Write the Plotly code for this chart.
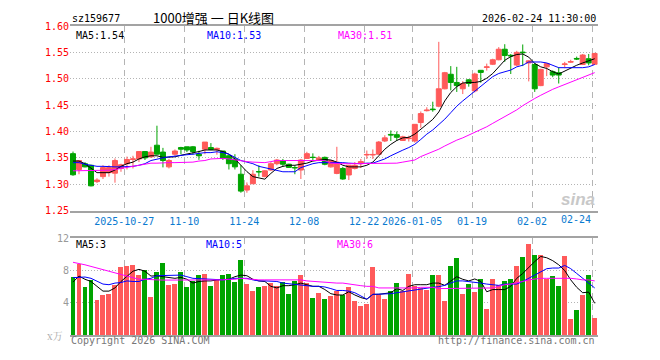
import plotly.graph_objects as go

# ---------------- data ----------------
opens = [1.358, 1.328, 1.339, 1.336, 1.305, 1.3145, 1.322, 1.321, 1.330, 1.339,
         1.347, 1.348, 1.362, 1.352, 1.374, 1.361, 1.333, 1.357, 1.3696, 1.371,
         1.371, 1.357, 1.3665, 1.3696, 1.366, 1.363, 1.354, 1.348, 1.319, 1.289,
         1.301, 1.3242, 1.3145, 1.327, 1.339, 1.345, 1.338, 1.3318, 1.327, 1.349,
         1.3512, 1.345, 1.351, 1.333, 1.3206, 1.330, 1.3176, 1.330, 1.339, 1.3555,
         1.3555, 1.357, 1.382, 1.3945, 1.394, 1.383, 1.3865, 1.382, 1.417, 1.4395,
         1.4425, 1.448, 1.481, 1.5085, 1.493, 1.481, 1.498, 1.477, 1.516, 1.5215,
         1.5275, 1.536, 1.556, 1.5445, 1.526, 1.5505, 1.530, 1.527, 1.487, 1.5226,
         1.5134, 1.5115, 1.527, 1.5315, 1.5385, 1.527, 1.538, 1.5275]
highs = [1.362, 1.346, 1.342, 1.337, 1.3114, 1.336, 1.336, 1.349, 1.339, 1.3525,
         1.354, 1.363, 1.363, 1.371, 1.411, 1.369, 1.348, 1.366, 1.371, 1.371,
         1.3726, 1.3635, 1.380, 1.378, 1.3696, 1.363, 1.356, 1.357, 1.336, 1.3035,
         1.3267, 1.336, 1.3267, 1.342, 1.348, 1.348, 1.339, 1.336, 1.348, 1.3616,
         1.3586, 1.3537, 1.3525, 1.346, 1.371, 1.333, 1.336, 1.342, 1.348, 1.364,
         1.366, 1.382, 1.393, 1.402, 1.400, 1.392, 1.392, 1.4136, 1.438, 1.446,
         1.4565, 1.570, 1.513, 1.524, 1.5226, 1.4955, 1.499, 1.5115, 1.516, 1.5287,
         1.538, 1.560, 1.5655, 1.547, 1.553, 1.565, 1.535, 1.530, 1.519, 1.530,
         1.516, 1.522, 1.532, 1.536, 1.542, 1.547, 1.547, 1.549]
lows = [1.316, 1.319, 1.332, 1.296, 1.3023, 1.310, 1.3145, 1.303, 1.3237, 1.328,
        1.330, 1.342, 1.346, 1.350, 1.356, 1.332, 1.330, 1.354, 1.357, 1.361,
        1.356, 1.3463, 1.357, 1.3647, 1.356, 1.346, 1.328, 1.328, 1.284, 1.284,
        1.301, 1.3145, 1.313, 1.3255, 1.336, 1.333, 1.331, 1.319, 1.310, 1.348,
        1.345, 1.344, 1.336, 1.3316, 1.319, 1.3085, 1.308, 1.328, 1.331, 1.348,
        1.348, 1.356, 1.380, 1.382, 1.382, 1.382, 1.381, 1.379, 1.407, 1.438,
        1.4375, 1.446, 1.480, 1.478, 1.475, 1.471, 1.485, 1.474, 1.4925, 1.5155,
        1.526, 1.535, 1.532, 1.509, 1.524, 1.524, 1.495, 1.475, 1.486, 1.505,
        1.503, 1.491, 1.520, 1.530, 1.5355, 1.526, 1.5255, 1.5265]
closes = [1.318, 1.345, 1.333, 1.297, 1.308, 1.3316, 1.3316, 1.345, 1.337, 1.347,
          1.348, 1.362, 1.350, 1.361, 1.357, 1.345, 1.345, 1.363, 1.3665, 1.365,
          1.362, 1.354, 1.380, 1.366, 1.368, 1.349, 1.339, 1.333, 1.287, 1.297,
          1.319, 1.3235, 1.3255, 1.339, 1.346, 1.338, 1.332, 1.3312, 1.346, 1.358,
          1.3508, 1.350, 1.338, 1.345, 1.342, 1.310, 1.336, 1.336, 1.343, 1.3565,
          1.3565, 1.380, 1.388, 1.3935, 1.389, 1.390, 1.3875, 1.4136, 1.434, 1.4405,
          1.4415, 1.481, 1.5115, 1.493, 1.487, 1.491, 1.491, 1.509, 1.512, 1.5225,
          1.536, 1.556, 1.544, 1.5435, 1.550, 1.5495, 1.534, 1.481, 1.5177, 1.5287,
          1.507, 1.507, 1.528, 1.5325, 1.5375, 1.545, 1.530, 1.548]

ma5 = [1.344, 1.344, 1.339, 1.330, 1.322, 1.322, 1.322, 1.327, 1.334, 1.339,
       1.342, 1.348, 1.352, 1.354, 1.354, 1.351, 1.351, 1.352, 1.355, 1.357,
       1.3586, 1.362, 1.365, 1.365, 1.365, 1.362, 1.357, 1.348, 1.336, 1.324,
       1.3145, 1.3115, 1.3096, 1.3206, 1.330, 1.334, 1.336, 1.336, 1.338, 1.340,
       1.344, 1.346, 1.347, 1.346, 1.342, 1.336, 1.333, 1.333, 1.333, 1.336,
       1.342, 1.354, 1.3665, 1.3757, 1.383, 1.388, 1.389, 1.395, 1.405, 1.4136,
       1.423, 1.437, 1.458, 1.474, 1.485, 1.492, 1.493, 1.493, 1.495, 1.501,
       1.510, 1.5226, 1.535, 1.542, 1.546, 1.547, 1.541, 1.529, 1.5226, 1.5195,
       1.5134, 1.509, 1.515, 1.521, 1.5256, 1.530, 1.5336, 1.538]
ma10 = [1.341, 1.341, 1.338, 1.336, 1.334, 1.334, 1.333, 1.333, 1.333, 1.333,
        1.334, 1.336, 1.339, 1.345, 1.348, 1.350, 1.352, 1.3537, 1.355, 1.356,
        1.357, 1.3586, 1.360, 1.360, 1.3616, 1.360, 1.357, 1.351, 1.345, 1.342,
        1.339, 1.334, 1.3316, 1.328, 1.3267, 1.3237, 1.3237, 1.3237, 1.3316, 1.336,
        1.339, 1.341, 1.341, 1.342, 1.341, 1.341, 1.340, 1.339, 1.339, 1.340,
        1.340, 1.344, 1.348, 1.354, 1.3586, 1.3647, 1.3696, 1.3757, 1.385, 1.395,
        1.403, 1.4124, 1.4234, 1.4357, 1.448, 1.458, 1.4675, 1.4767, 1.486, 1.495,
        1.504, 1.510, 1.5134, 1.5165, 1.5226, 1.5256, 1.5318, 1.5318, 1.5318, 1.530,
        1.5256, 1.521, 1.521, 1.521, 1.521, 1.521, 1.5226, 1.527]
ma30 = [1.3255, 1.3255, 1.3255, 1.3255, 1.3255, 1.3255, 1.3267, 1.328, 1.330, 1.333,
        1.334, 1.336, 1.339, 1.340, 1.340, 1.341, 1.341, 1.341, 1.341, 1.341,
        1.342, 1.344, 1.345, 1.348, 1.349, 1.349, 1.348, 1.346, 1.344, 1.343,
        1.342, 1.341, 1.341, 1.343, 1.345, 1.345, 1.345, 1.345, 1.345, 1.345,
        1.345, 1.345, 1.345, 1.340, 1.339, 1.339, 1.339, 1.339, 1.339, 1.339,
        1.339, 1.339, 1.339, 1.339, 1.340, 1.342, 1.344, 1.346, 1.3525, 1.357,
        1.3616, 1.3665, 1.3726, 1.3788, 1.3837, 1.388, 1.393, 1.398, 1.403, 1.409,
        1.4155, 1.4216, 1.4277, 1.4338, 1.441, 1.449, 1.4565, 1.4626, 1.4687, 1.475,
        1.480, 1.4846, 1.489, 1.493, 1.498, 1.5025, 1.507, 1.5116]

volume = [7.14, 8.77, 5.91, 6.83, 4.37, 4.96, 5.12, 6.15, 8.45, 8.57,
          8.65, 7.38, 8.06, 4.76, 7.74, 8.89, 6.19, 6.31, 7.86, 5.91,
          6.63, 7.38, 7.50, 6.07, 6.83, 7.38, 7.50, 6.55, 9.29, 6.31,
          5.44, 5.95, 6.07, 6.43, 6.07, 6.55, 5.12, 6.67, 7.38, 6.43,
          4.64, 5.24, 4.52, 4.84, 5.44, 4.96, 5.91, 4.17, 3.65, 3.89,
          8.45, 4.96, 4.48, 5.44, 6.39, 5.44, 7.58, 6.03, 5.83, 5.63,
          7.46, 7.38, 4.17, 8.57, 9.52, 5.12, 6.31, 5.36, 6.90, 3.21,
          6.98, 6.15, 6.75, 6.90, 8.57, 9.64, 11.27, 9.96, 9.84, 6.98,
          7.26, 6.03, 9.72, 1.98, 3.06, 4.96, 7.38, 2.14]
vma5 = [6.55, 7.30, 6.90, 6.63, 6.03, 5.44, 5.44, 5.83, 6.63, 7.22,
        7.90, 8.13, 7.90, 7.30, 7.34, 7.22, 7.10, 7.02, 7.14, 6.90,
        6.43, 6.63, 6.70, 6.70, 6.83, 6.83, 6.90, 7.22, 7.42, 7.34,
        6.90, 6.70, 6.63, 6.03, 5.83, 6.11, 6.11, 6.23, 6.43, 6.23,
        6.03, 6.03, 5.63, 5.12, 4.96, 4.96, 5.36, 4.96, 4.64, 4.44,
        5.04, 5.04, 5.12, 5.24, 5.75, 5.52, 6.03, 6.23, 6.23, 6.23,
        6.43, 6.43, 6.15, 6.63, 7.22, 6.90, 6.70, 6.94, 6.63, 5.36,
        5.63, 5.63, 5.63, 6.03, 7.02, 7.62, 8.41, 9.09, 9.72, 9.56,
        9.20, 8.69, 7.98, 6.83, 5.91, 5.24, 5.32, 3.93]
vma10 = [7.10, 7.18, 7.18, 7.02, 6.63, 6.31, 6.23, 6.43, 6.50, 6.70,
         6.63, 6.63, 6.90, 7.02, 7.34, 7.34, 7.42, 7.42, 7.42, 7.22,
         7.02, 6.98, 6.94, 6.90, 6.83, 6.83, 6.90, 7.02, 7.02, 7.02,
         6.83, 6.70, 6.70, 6.63, 6.63, 6.43, 6.35, 6.23, 6.15, 6.15,
         6.03, 6.03, 5.95, 5.75, 5.52, 5.52, 5.44, 5.24, 4.84, 4.44,
         5.04, 5.04, 5.04, 5.12, 5.24, 5.36, 5.52, 5.63, 5.75, 5.83,
         5.91, 5.99, 6.15, 6.43, 6.70, 6.70, 6.63, 6.55, 6.43, 6.31,
         6.23, 6.15, 6.31, 6.31, 6.31, 6.63, 7.02, 7.42, 7.90, 8.21,
         8.29, 8.29, 8.61, 8.21, 7.62, 7.02, 6.43, 5.83]
vma30 = [9.00, 8.89, 8.69, 8.49, 8.29, 8.10, 7.90, 7.62, 7.42, 7.22,
         7.02, 6.90, 6.90, 6.83, 6.83, 6.80, 6.80, 6.80, 6.80, 6.80,
         6.80, 6.80, 6.80, 6.80, 6.80, 6.83, 6.90, 6.90, 7.02, 6.94,
         6.83, 6.83, 6.83, 6.83, 6.83, 6.83, 6.83, 6.83, 6.83, 6.70,
         6.63, 6.55, 6.50, 6.50, 6.43, 6.43, 6.31, 6.15, 6.11, 6.03,
         6.03, 5.83, 5.83, 5.83, 5.83, 5.83, 5.75, 5.83, 5.91, 5.91,
         5.91, 5.75, 5.75, 5.83, 5.83, 5.83, 5.75, 5.75, 5.83, 5.75,
         5.83, 6.03, 6.23, 6.31, 6.43, 6.63, 6.83, 6.94, 7.02, 7.02,
         7.02, 7.02, 7.10, 7.02, 6.94, 6.83, 6.83, 6.70]

tick_index = [9, 19, 29, 39, 49, 57, 67, 77, 87]
tick_labels = ["2025-10-27", "11-10", "11-24", "12-08", "12-22",
               "2026-01-05", "01-19", "02-02", "02-24"]
price_ticks = [1.25, 1.30, 1.35, 1.40, 1.45, 1.50, 1.55, 1.60]
vol_ticks = [4, 8, 12]

# ---------------- styling ----------------
W, H = 660, 360
L, R = 70, 597.7
PT, PB = 20.7, 211.7
VT, VB = 240, 340.5
UP = "#ff5a5a"
DN = "#00a400"
BORDER = "#a3a3a3"
GRID = "#b4b4b4"
MONO = "DejaVu Sans Mono"


def px(x):
    return x / W


def py(y):
    return 1 - y / H


x = list(range(len(closes)))
vol_colors = [UP if c > o else DN for o, c in zip(opens, closes)]

fig = go.Figure()
fig.add_trace(go.Candlestick(
    x=x, open=opens, high=highs, low=lows, close=closes,
    increasing=dict(line=dict(color=UP, width=1), fillcolor=UP),
    decreasing=dict(line=dict(color=DN, width=1), fillcolor=DN),
    whiskerwidth=0, hoverinfo="skip", xaxis="x", yaxis="y", showlegend=False))
for series, col in ((ma5, "#000000"), (ma10, "#0000ff"), (ma30, "#ff00ff")):
    fig.add_trace(go.Scatter(x=x, y=series, mode="lines",
                             line=dict(color=col, width=1),
                             hoverinfo="skip", xaxis="x", yaxis="y",
                             showlegend=False))

fig.add_trace(go.Bar(x=x, y=volume, width=0.83, marker=dict(color=vol_colors, line=dict(width=0)),
                     hoverinfo="skip", xaxis="x2", yaxis="y2", showlegend=False))
for series, col in ((vma5, "#000000"), (vma10, "#0000ff"), (vma30, "#ff00ff")):
    fig.add_trace(go.Scatter(x=x, y=series, mode="lines",
                             line=dict(color=col, width=1),
                             hoverinfo="skip", xaxis="x2", yaxis="y2",
                             showlegend=False))

grid_x = [i - 0.45 for i in tick_index]
xcommon = dict(range=[-0.5, 87.5], domain=[px(L), px(R)], showline=True, mirror=True,
               linecolor=BORDER, linewidth=2, showgrid=True, gridcolor=GRID,
               griddash="6px,5px", gridwidth=1, zeroline=False, ticks="",
               tickvals=grid_x, fixedrange=True)

fig.update_layout(
    width=W, height=H, margin=dict(l=0, r=0, t=0, b=0),
    paper_bgcolor="white", plot_bgcolor="white",
    boxgap=0.17, boxgroupgap=0, bargap=0,
    xaxis=dict(**xcommon, anchor="y", rangeslider=dict(visible=False),
               ticktext=tick_labels[:-1] + [""],
               tickfont=dict(family=MONO, size=10, color="#0a7ad0")),
    yaxis=dict(range=[1.25, 1.60], domain=[py(PB), py(PT)], anchor="x",
               showline=False, showgrid=True, gridcolor=GRID, griddash="1px,2px",
               zeroline=False, tickvals=price_ticks,
               ticktext=["%.2f" % v for v in price_ticks], ticks="",
               tickfont=dict(family=MONO, size=10, color="#ff0000"), fixedrange=True),
    xaxis2=dict(**xcommon, anchor="y2", showticklabels=False),
    yaxis2=dict(range=[0, 12], domain=[py(VB), py(VT)], anchor="x2",
                showline=False, showgrid=True, gridcolor=GRID, griddash="1px,2px",
                zeroline=False, tickvals=vol_ticks, ticktext=[str(v) for v in vol_ticks],
                ticks="", tickfont=dict(family=MONO, size=10, color="#999999"),
                fixedrange=True),
)

ann = []


def text(s, x0, y0, color="#000000", size=10, anchor="left", family=MONO, **kw):
    ann.append(dict(text=s, x=px(x0), y=py(y0), xref="paper", yref="paper",
                    xanchor=anchor, yanchor="middle", showarrow=False,
                    font=dict(family=family, size=size, color=color), **kw))


text("sz159677", 70, 13)
text("1000增强 一 日K线图", 151, 12, size=13, family="Noto Sans CJK SC")
text("2026-02-24 11:30:00", 598, 13, anchor="right")
text("MA5:%.2f" % ma5[-1], 74, 30)
text("MA10:%.2f" % ma10[-1], 205, 30, color="#0000ff")
text("MA30:%.2f" % ma30[-1], 336, 30, color="#ff00ff")
text(tick_labels[-1], 592.5, 221, color="#0a7ad0", anchor="right")
text("MA5:%d" % int(vma5[-1]), 74, 247)
text("MA10:%d" % int(vma10[-1]), 204, 247, color="#0000ff")
text("MA30:%d" % int(vma30[-1]), 335, 247, color="#ff00ff")
text("x万", 65, 341, color="#aaaaaa", anchor="right", family="Noto Serif CJK SC, Noto Sans CJK SC")
text("Copyright 2026 SINA.COM", 69, 346, color="#777777")
text("http://finance.sina.com.cn", 597, 346, color="#777777", anchor="right")
text("<b><i>sina</i></b>", 597, 200, color="#c8c8c8", size=17, anchor="right",
     family="Arial, Liberation Sans")
fig.update_layout(annotations=ann)

fig.write_html("out.html", config={"displayModeBar": False},
               post_script="document.body.style.margin='0';document.body.style.overflow='hidden';")
